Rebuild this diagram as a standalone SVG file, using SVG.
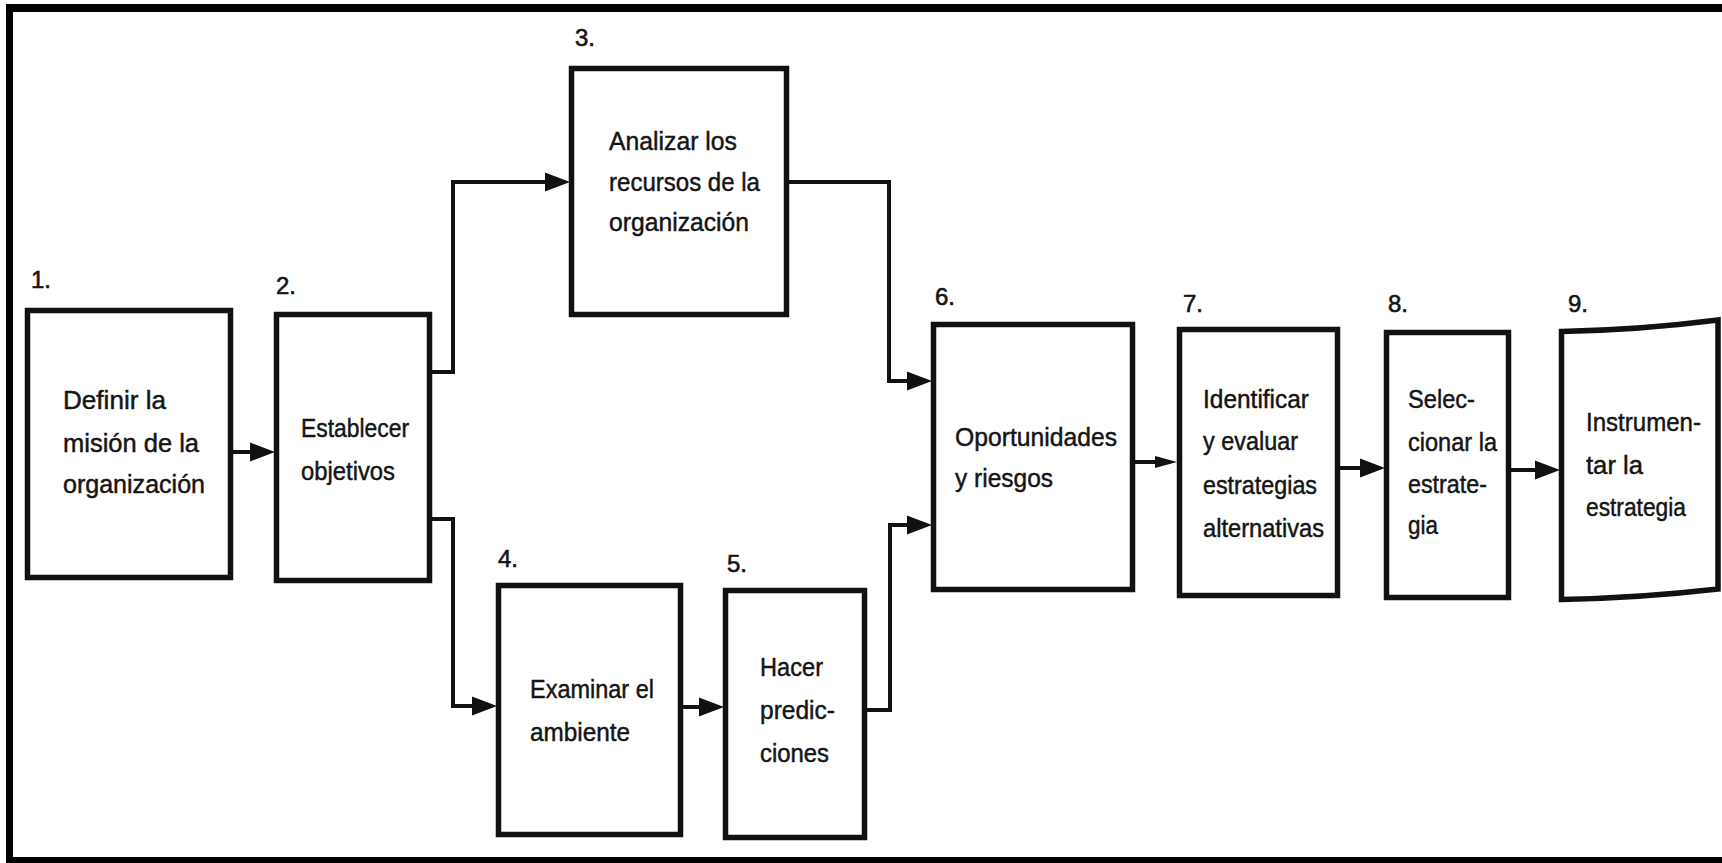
<svg xmlns="http://www.w3.org/2000/svg" width="1722" height="863" viewBox="0 0 1722 863">
  <style>
    .box { fill: #ffffff; stroke: #111111; stroke-width: 5.5; }
    .wire { fill: none; stroke: #111111; stroke-width: 4; stroke-linejoin: miter; }
    .lbl { font-family: "Liberation Sans", Arial, sans-serif; font-size: 25px; fill: #151515; stroke: #151515; stroke-width: 0.45; }
    .num { font-family: "Liberation Sans", Arial, sans-serif; font-size: 24px; fill: #151515; stroke: #151515; stroke-width: 0.6; }
    .frame { fill: #000000; }
  </style>
  <defs>
    <marker id="head" markerUnits="userSpaceOnUse" markerWidth="26" markerHeight="22" refX="0" refY="10" orient="auto">
      <path d="M0,0.5 L25,10 L0,19.5 Z" fill="#111111"/>
    </marker>
    <marker id="headSmall" markerUnits="userSpaceOnUse" markerWidth="24" markerHeight="18" refX="0" refY="8" orient="auto">
      <path d="M0,2 L22,8 L0,14 Z" fill="#111111"/>
    </marker>
  </defs>

  <rect width="1722" height="863" fill="#ffffff"/>

  <!-- outer frame: left, top and bottom bars -->
  <g id="frame">
    <rect class="frame" x="6" y="4" width="1716" height="8"/>
    <rect class="frame" x="6" y="4" width="7" height="859"/>
    <rect class="frame" x="6" y="857" width="1716" height="6"/>
  </g>

  <!-- connectors -->
  <g id="connectors">
    <path class="wire" d="M233,452 L250,452" marker-end="url(#head)"/>
    <path class="wire" d="M432,372 L453,372 L453,182 L545,182" marker-end="url(#head)"/>
    <path class="wire" d="M432,519 L453,519 L453,706 L472,706" marker-end="url(#head)"/>
    <path class="wire" d="M789,182 L889,182 L889,381 L907,381" marker-end="url(#head)"/>
    <path class="wire" d="M683,707 L699,707" marker-end="url(#head)"/>
    <path class="wire" d="M867,710 L890,710 L890,525 L907,525" marker-end="url(#head)"/>
    <path class="wire" d="M1135,462 L1155,462" marker-end="url(#headSmall)"/>
    <path class="wire" d="M1340,468 L1360,468" marker-end="url(#head)"/>
    <path class="wire" d="M1511,470 L1535,470" marker-end="url(#head)"/>
  </g>

  <g id="node1">
    <text class="num" x="31" y="288">1.</text>
    <rect class="box" x="27.5" y="310.5" width="203" height="267"/>
    <text class="lbl" x="63" y="409" textLength="103" lengthAdjust="spacingAndGlyphs">Definir la</text>
    <text class="lbl" x="63" y="452" textLength="136" lengthAdjust="spacingAndGlyphs">misión de la</text>
    <text class="lbl" x="63" y="493" textLength="142" lengthAdjust="spacingAndGlyphs">organización</text>
  </g>

  <g id="node2">
    <text class="num" x="276" y="294">2.</text>
    <rect class="box" x="276.5" y="314.5" width="153" height="266"/>
    <text class="lbl" x="301" y="437" textLength="108" lengthAdjust="spacingAndGlyphs">Establecer</text>
    <text class="lbl" x="301" y="480" textLength="94" lengthAdjust="spacingAndGlyphs">objetivos</text>
  </g>

  <g id="node3">
    <text class="num" x="575" y="46">3.</text>
    <rect class="box" x="571.5" y="68.5" width="215" height="246"/>
    <text class="lbl" x="609" y="150" textLength="128" lengthAdjust="spacingAndGlyphs">Analizar los</text>
    <text class="lbl" x="609" y="191" textLength="151" lengthAdjust="spacingAndGlyphs">recursos de la</text>
    <text class="lbl" x="609" y="231" textLength="140" lengthAdjust="spacingAndGlyphs">organización</text>
  </g>

  <g id="node4">
    <text class="num" x="498" y="567">4.</text>
    <rect class="box" x="498.5" y="585.5" width="182" height="249"/>
    <text class="lbl" x="530" y="698" textLength="124" lengthAdjust="spacingAndGlyphs">Examinar el</text>
    <text class="lbl" x="530" y="741" textLength="100" lengthAdjust="spacingAndGlyphs">ambiente</text>
  </g>

  <g id="node5">
    <text class="num" x="727" y="572">5.</text>
    <rect class="box" x="725.5" y="590.5" width="139" height="247"/>
    <text class="lbl" x="760" y="676" textLength="63" lengthAdjust="spacingAndGlyphs">Hacer</text>
    <text class="lbl" x="760" y="719" textLength="75" lengthAdjust="spacingAndGlyphs">predic-</text>
    <text class="lbl" x="760" y="762" textLength="69" lengthAdjust="spacingAndGlyphs">ciones</text>
  </g>

  <g id="node6">
    <text class="num" x="935" y="305">6.</text>
    <rect class="box" x="933.5" y="324.5" width="199" height="265"/>
    <text class="lbl" x="955" y="446" textLength="162" lengthAdjust="spacingAndGlyphs">Oportunidades</text>
    <text class="lbl" x="955" y="487" textLength="98" lengthAdjust="spacingAndGlyphs">y riesgos</text>
  </g>

  <g id="node7">
    <text class="num" x="1183" y="312">7.</text>
    <rect class="box" x="1179.5" y="329.5" width="158" height="266"/>
    <text class="lbl" x="1203" y="408" textLength="106" lengthAdjust="spacingAndGlyphs">Identificar</text>
    <text class="lbl" x="1203" y="450" textLength="95" lengthAdjust="spacingAndGlyphs">y evaluar</text>
    <text class="lbl" x="1203" y="494" textLength="114" lengthAdjust="spacingAndGlyphs">estrategias</text>
    <text class="lbl" x="1203" y="537" textLength="121" lengthAdjust="spacingAndGlyphs">alternativas</text>
  </g>

  <g id="node8">
    <text class="num" x="1388" y="312">8.</text>
    <rect class="box" x="1386.5" y="332.5" width="122" height="265"/>
    <text class="lbl" x="1408" y="408" textLength="67" lengthAdjust="spacingAndGlyphs">Selec-</text>
    <text class="lbl" x="1408" y="451" textLength="89" lengthAdjust="spacingAndGlyphs">cionar la</text>
    <text class="lbl" x="1408" y="493" textLength="79" lengthAdjust="spacingAndGlyphs">estrate-</text>
    <text class="lbl" x="1408" y="534" textLength="30" lengthAdjust="spacingAndGlyphs">gia</text>
  </g>

  <g id="node9">
    <text class="num" x="1568" y="312">9.</text>
    <path class="box" d="M1561.5,331.5 Q1640,330 1718,320 L1718,589 Q1640,598 1561.5,599.5 Z"/>
    <text class="lbl" x="1586" y="431" textLength="115" lengthAdjust="spacingAndGlyphs">Instrumen-</text>
    <text class="lbl" x="1586" y="474" textLength="57" lengthAdjust="spacingAndGlyphs">tar la</text>
    <text class="lbl" x="1586" y="516" textLength="100" lengthAdjust="spacingAndGlyphs">estrategia</text>
  </g>
</svg>
